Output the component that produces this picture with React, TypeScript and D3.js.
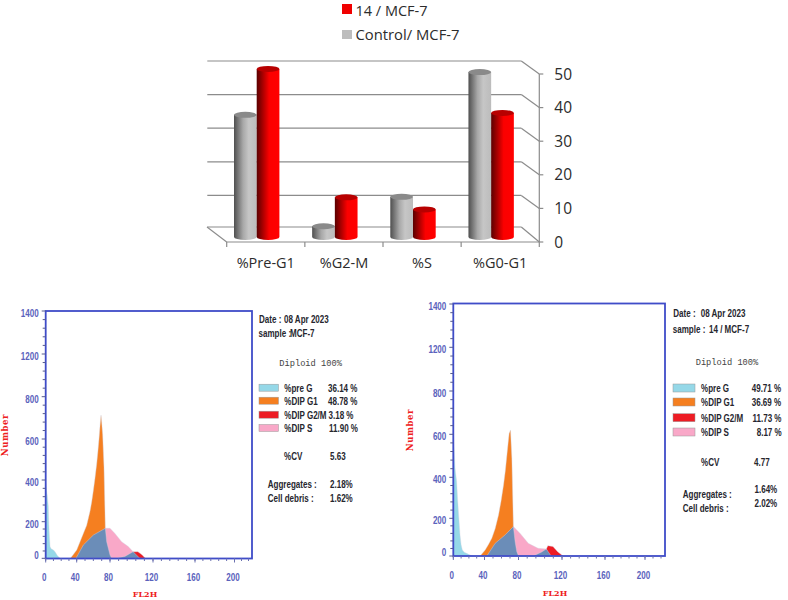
import React from "react";
import * as d3 from "d3";

// ---------- bar chart data ----------
const phases = ["%Pre-G1", "%G2-M", "%S", "%G0-G1"];
const controlValues = [36.14, 3.18, 11.9, 48.78];
const compoundValues = [49.71, 11.73, 8.17, 36.69];
const barTicks = [0, 10, 20, 30, 40, 50];
const controlName = "Control/ MCF-7";
const compoundName = "14 / MCF-7";

// ---------- histogram data ----------
type P = [number, number];
const numberTicks = [0, 200, 400, 600, 800, 1200, 1400];
const fl2Ticks = [0, 40, 80, 120, 160, 200];

const leftPre: P[] = [[0, 388], [1, 350], [2, 327], [3.4, 273], [4, 190], [4.7, 127], [5.6, 65], [7, 52], [10, 45], [12, 36], [15, 15], [18.5, 0]];
const leftG1: P[] = [[32, 0], [40, 45], [44, 90], [48, 136], [52, 180], [56, 250], [58, 295], [60, 350], [62, 410], [64, 478], [65.5, 540], [66.8, 600], [68, 660], [69.2, 713], [70, 680], [71.2, 620], [72.8, 462], [74.4, 164], [75, 0]];
const leftS: P[] = [[74.4, 164], [80, 164], [84.6, 136], [90.8, 91], [97, 64], [101.5, 36], [104, 0]];
const leftG2: P[] = [[100, 0], [101.5, 36], [106, 36], [110, 18], [112.9, 0]];
const leftBlueA: P[] = [[39, 0], [48, 73], [60, 127], [74.4, 164], [76, 91], [80, 18], [81.5, 0]];
const leftBlueB: P[] = [[86, 0], [93.8, 10], [101.5, 36], [107.7, 0]];

const rightPre: P[] = [[0, 612], [1, 540], [2.2, 443], [4.3, 379], [5.4, 300], [6.5, 235], [8.6, 111], [10, 60], [11.6, 32], [14, 20], [17, 14], [21.5, 5], [26, 0]];
const rightG1: P[] = [[34.4, 0], [40.8, 32], [44.5, 60], [48.6, 94], [52.5, 145], [56.5, 216], [59.5, 285], [62.4, 363], [64.5, 430], [66.3, 501], [67.8, 560], [69, 604], [70.6, 620], [72.2, 487], [74, 156], [75.3, 0]];
const rightS: P[] = [[74, 156], [81.5, 120], [89, 67], [98, 41], [105.6, 37], [107, 0]];
const rightG2: P[] = [[104, 0], [105.6, 37], [107, 55], [111.7, 50], [116, 23], [121, 0]];
const rightBlueA: P[] = [[42.7, 0], [52.5, 67], [64.3, 112], [74, 156], [76, 76], [78, 23], [80, 0]];
const rightBlueB: P[] = [[93.5, 0], [101, 20], [105.6, 37], [110, 0]];

const cellColors = { pre: "#95d8e8", g1: "#f57f20", g2: "#ed1c24", s: "#f9a8c8", blue: "#6b8db8" };

const legendRows = ["%pre G", "%DIP G1", "%DIP G2/M", "%DIP S"];
const leftPct = ["36.14 %", "48.78 %", "3.18 %", "11.90 %"];
const rightPct = ["49.71 %", "36.69 %", "11.73 %", "8.17 %"];
const swatchColors = [cellColors.pre, cellColors.g1, cellColors.g2, cellColors.s];

const NARROW = "'Liberation Sans',sans-serif";
const SQUEEZE = 0.73;
const SANS = "'Open Sans','Noto Sans',sans-serif";
const INK = "#26262e";

function BarChart() {
  const band = d3.scaleBand().domain(phases).range([226.7, 539.3]);
  const series = d3.scaleBand().domain(["control", "compound"]).range([7.3, 52.7]);
  const yBar = d3.scaleLinear().domain([0, 50]).range([237, 68]);
  const yAxis = d3.scaleLinear().domain([0, 50]).range([242, 74]);
  const rows = [
    { key: "control", values: controlValues, fill: "url(#grayCyl)", cap: "#8a8a8a" },
    { key: "compound", values: compoundValues, fill: "url(#redCyl)", cap: "#b80000" },
  ];
  const depthX = 18, depthY = 13;
  const right = band.range()[1];
  const grid = "#8c8c8c";
  return (
    <g>
      <defs>
        <linearGradient id="grayCyl">
          <stop offset="0" stopColor="#4f4f4f" />
          <stop offset="0.4" stopColor="#a8a8a8" />
          <stop offset="0.65" stopColor="#c6c6c6" />
          <stop offset="1" stopColor="#bcbcbc" />
        </linearGradient>
        <linearGradient id="redCyl">
          <stop offset="0" stopColor="#5a0000" />
          <stop offset="0.35" stopColor="#c00000" />
          <stop offset="0.55" stopColor="#fb0000" />
          <stop offset="1" stopColor="#ff0000" />
        </linearGradient>
      </defs>
      {barTicks.map((t) => {
        const fy = yAxis(t);
        const by = fy - depthY - (t === 0 ? 2 : 0);
        return (
          <g key={t} stroke={grid} strokeWidth={1.2}>
            <line x1={right - depthX} x2={right} y1={by} y2={fy} />
            <line x1={right - depthX - 314} x2={right - depthX} y1={by} y2={by} />
            <line x1={right} x2={right + 4} y1={fy} y2={fy} />
          </g>
        );
      })}
      <line x1={207} y1={yAxis(0) - 15} x2={band.range()[0]} y2={yAxis(0)} stroke={grid} strokeWidth={1.2} />
      <line x1={band.range()[0]} x2={right} y1={yAxis(0)} y2={yAxis(0)} stroke={grid} strokeWidth={1.2} />
      <line x1={right} x2={right} y1={yAxis(50)} y2={yAxis(0)} stroke={grid} strokeWidth={1.2} />
      {[...phases.map((p) => band(p) as number), right].map((x) => (
        <line key={x} x1={x} x2={x} y1={yAxis(0)} y2={yAxis(0) + 5} stroke={grid} strokeWidth={1.2} />
      ))}
      {phases.map((p, i) =>
        rows.map((r) => {
          const x = (band(p) as number) + (series(r.key) as number);
          const w = series.bandwidth();
          const top = yBar(r.values[i]);
          const base = yBar(0);
          const ry = 3;
          const d = `M${x},${top}L${x},${base}A${w / 2},${ry} 0 0 0 ${x + w},${base}L${x + w},${top}Z`;
          return (
            <g key={p + r.key}>
              <path d={d} fill={r.fill} />
              <ellipse cx={x + w / 2} cy={top} rx={w / 2} ry={ry} fill={r.cap} />
            </g>
          );
        })
      )}
      {barTicks.map((t) => (
        <text key={t} x={right + 15} y={yAxis(t)} dy="0.36em" fontFamily={SANS} fontSize={15.5} fill="#2c2c2c">{t}</text>
      ))}
      {phases.map((p) => (
        <text key={p} x={(band(p) as number) + band.bandwidth() / 2} y={263} dy="0.36em" textAnchor="middle" fontFamily={SANS} fontSize={14.5} fill="#2c2c2c">{p}</text>
      ))}
      <rect x={342} y={4} width={10} height={10} fill="#f00000" />
      <text x={355.5} y={10.5} dy="0.36em" fontFamily={SANS} fontSize={14.5} fill="#2c2c2c">{compoundName}</text>
      <rect x={342} y={30} width={10} height={9} fill="#bdbdbd" />
      <text x={355.5} y={34.5} dy="0.36em" fontFamily={SANS} fontSize={14.8} fill="#2c2c2c">{controlName}</text>
    </g>
  );
}

type HistProps = {
  frame: { l: number; t: number; r: number; b: number };
  xRange: number[];
  yRange: number[];
  pre: P[]; g1: P[]; s: P[]; g2: P[]; blueA: P[]; blueB: P[];
  numberX: number; numberY: number; fl2X: number; fl2Y: number;
};

function Histogram(h: HistProps) {
  const x = d3.scaleLinear().domain([0, 40, 80, 120, 160, 200, 220]).range(h.xRange);
  const y = d3.scaleLinear().domain(numberTicks).range(h.yRange);
  const area = d3.area<P>().x((d) => x(d[0])).y0(y(0)).y1((d) => y(d[1]));
  const blue = "#3f4cc8";
  const lab = "#5a62bc";
  const minorY = d3.pairs(numberTicks).flatMap(([a, b]) => d3.range(1, 5).map((k) => a + ((b - a) * k) / 5));
  const minorX = [...d3.range(0, 80, 10), ...d3.range(80, 221, 8)];
  const layers: [P[], string][] = [
    [h.pre, cellColors.pre], [h.g1, cellColors.g1], [h.g2, cellColors.g2], [h.s, cellColors.s],
    [h.blueA, cellColors.blue], [h.blueB, cellColors.blue],
  ];
  return (
    <g>
      {layers.map(([d, c], i) => (
        <path key={i} d={area(d) as string} fill={c} stroke="#d5d5e0" strokeWidth={0.4} />
      ))}
      <rect x={h.frame.l} y={h.frame.t} width={h.frame.r - h.frame.l} height={h.frame.b - h.frame.t} fill="none" stroke={blue} strokeWidth={1.8} />
      {minorY.map((v) => (
        <line key={v} x1={h.frame.l - 3} x2={h.frame.l} y1={y(v)} y2={y(v)} stroke="#555a90" strokeWidth={1} />
      ))}
      {numberTicks.map((v) => (
        <g key={v}>
          <line x1={h.frame.l - 4} x2={h.frame.l} y1={y(v)} y2={y(v)} stroke="#555a90" strokeWidth={1} />
          <text transform={`translate(${h.frame.l - 7},${y(v) + (v === 0 ? -3.5 : 2)}) scale(${SQUEEZE},1)`} dy="0.36em" textAnchor="end" fontFamily={NARROW} fontSize={11} fontWeight={700} fill={lab}>{v}</text>
        </g>
      ))}
      {minorX.map((v) => (
        <line key={v} x1={x(v)} x2={x(v)} y1={h.frame.b} y2={h.frame.b + 2.5} stroke="#6a70b0" strokeWidth={1} />
      ))}
      {fl2Ticks.map((v) => (
        <g key={v}>
          <line x1={x(v)} x2={x(v)} y1={h.frame.b} y2={h.frame.b + 4} stroke="#6a70b0" strokeWidth={1} />
          <text transform={`translate(${x(v) - 1.5},${h.frame.b + 19}) scale(${SQUEEZE},1)`} dy="0.36em" textAnchor="middle" fontFamily={NARROW} fontSize={11} fontWeight={700} fill={lab}>{v}</text>
        </g>
      ))}
      <text x={h.fl2X} y={h.fl2Y} dy="0.36em" textAnchor="middle" fontFamily="'DejaVu Serif',serif" fontWeight={700} fontSize={8} fill="#ee2020">FL2H</text>
      <text transform={`translate(${h.numberX},${h.numberY}) rotate(-90)`} dy="0.36em" textAnchor="middle" fontFamily="'DejaVu Serif',serif" fontWeight={700} fontSize={8.5} letterSpacing={0.6} fill="#ee2020">Number</text>
    </g>
  );
}

type SideProps = {
  sample: string; dateX: number; dateY: number; sampleX: number; sampleY: number; labelX: number; headX: number; headY: number;
  swX: number; swW: number; swH: number; rowYs: number[]; rowX: number; pct: string[]; pctXs: number[];
  cv: string; cvX: number; cvY: number; cvLabelX: number;
  aggX: number; aggY: number; debY: number; agg: string; deb: string; aggValY: number; debValY: number; valX: number;
};

function T(p: { x: number; y: number; t: string }) {
  return (
    <text transform={`translate(${p.x},${p.y}) scale(${SQUEEZE},1)`} dy="0.36em" fontFamily={NARROW} fontSize={11} fontWeight={700} fill={INK}>{p.t}</text>
  );
}

function SidePanel(s: SideProps) {
  return (
    <g>
      <T x={s.labelX} y={s.dateY} t="Date :" />
      <T x={s.dateX} y={s.dateY + 0.5} t="08 Apr 2023" />
      <T x={s.labelX - 0.5} y={s.sampleY} t="sample :" />
      <T x={s.sampleX} y={s.sampleY + 0.5} t={s.sample} />
      <text x={s.headX} y={s.headY} dy="0.36em" fontFamily="'Liberation Mono',monospace" fontSize={8.7} fill="#444">Diploid 100%</text>
      {legendRows.map((r, i) => (
        <g key={r}>
          <rect x={s.swX} y={s.rowYs[i] - s.swH / 2} width={s.swW} height={s.swH} fill={swatchColors[i]} stroke="#999" strokeWidth={0.5} />
          <T x={s.rowX} y={s.rowYs[i]} t={r} />
          <T x={s.pctXs[i]} y={s.rowYs[i]} t={s.pct[i]} />
        </g>
      ))}
      <T x={s.cvLabelX} y={s.cvY} t="%CV" />
      <T x={s.cvX} y={s.cvY} t={s.cv} />
      <T x={s.aggX} y={s.aggY} t="Aggregates :" />
      <T x={s.aggX} y={s.debY} t="Cell debris :" />
      <T x={s.valX} y={s.aggValY} t={s.agg} />
      <T x={s.valX} y={s.debValY} t={s.deb} />
    </g>
  );
}

export default function App() {
  return (
    <svg width={788} height={600} style={{ position: "absolute", left: 0, top: 0, display: "block", background: "#fff" }}>
      <BarChart />
      <Histogram
        frame={{ l: 45.7, t: 311, r: 252, b: 558.5 }}
        xRange={[45.7, 76.7, 110, 153, 195, 234.5, 252]}
        yRange={[558.3, 521.7, 480, 439, 396.7, 354, 311]}
        pre={leftPre} g1={leftG1} s={leftS} g2={leftG2} blueA={leftBlueA} blueB={leftBlueB}
        numberX={4.5} numberY={435} fl2X={145} fl2Y={594}
      />
      <Histogram
        frame={{ l: 453.3, t: 303.5, r: 665, b: 556 }}
        xRange={[453.3, 484.5, 518.5, 562, 605, 645, 665]}
        yRange={[556, 518.3, 477.3, 434.3, 391, 347.3, 304]}
        pre={rightPre} g1={rightG1} s={rightS} g2={rightG2} blueA={rightBlueA} blueB={rightBlueB}
        numberX={410} numberY={430} fl2X={555} fl2Y={592.7}
      />
      <SidePanel
        sample="MCF-7" labelX={259} dateX={284} dateY={319} sampleX={290} sampleY={333}
        headX={279.3} headY={363}
        swX={259} swW={19.5} swH={7} rowYs={[387.7, 400.7, 414.7, 428]} rowX={284.3}
        pct={leftPct} pctXs={[328, 328, 328.5, 329]}
        cvLabelX={284} cv="5.63" cvX={330} cvY={455.7}
        aggX={267.7} aggY={484} debY={498} agg="2.18%" deb="1.62%" aggValY={484} debValY={498} valX={330}
      />
      <SidePanel
        sample="14 / MCF-7" labelX={673.3} dateX={700.7} dateY={313} sampleX={709} sampleY={329}
        headX={695.7} headY={361.7}
        swX={673} swW={22} swH={8} rowYs={[388, 402, 417.7, 432]} rowX={701}
        pct={rightPct} pctXs={[751.7, 751.7, 752.5, 756.7]}
        cvLabelX={701} cv="4.77" cvX={754} cvY={461.7}
        aggX={682.7} aggY={494} debY={508} agg="1.64%" deb="2.02%" aggValY={489} debValY={503} valX={754.5}
      />
    </svg>
  );
}
